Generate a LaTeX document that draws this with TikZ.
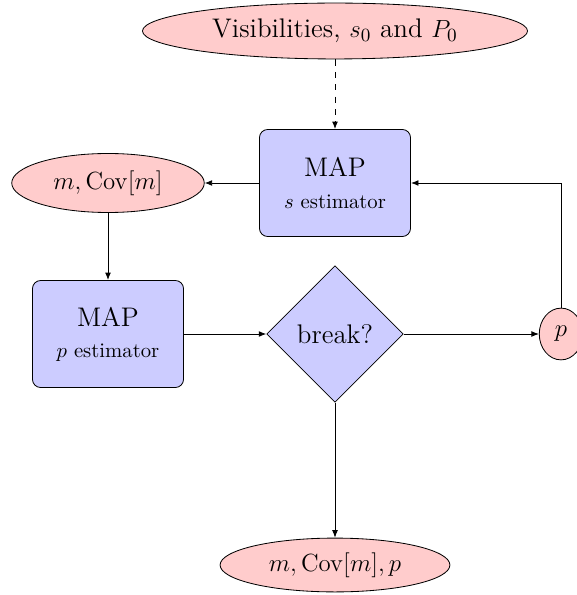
\documentclass[tikz,border=0pt]{standalone}
\usetikzlibrary{shapes.geometric,arrows.meta}
\newcommand{\mainsize}{\fontsize{13}{15.6}\selectfont}
\begin{document}
\begin{tikzpicture}[x=0.483pt,y=-0.483pt,
  iobox/.style={ellipse,draw=black,fill=red!20,inner sep=0pt,font=\mainsize},
  procbox/.style={rectangle,rounded corners=4pt,draw=black,fill=blue!20,inner sep=0pt,
    minimum width=73pt,minimum height=51.7pt,align=center},
  decbox/.style={diamond,draw=black,fill=blue!20,inner sep=0pt,minimum width=66pt,minimum height=66pt,font=\mainsize},
  conn/.style={-{Latex[length=3.6pt,width=2.8pt]}}]
\useasboundingbox (0,0) rectangle (576,595);
\node[iobox,minimum width=186pt,minimum height=27pt] (vis) at (335,31) {Visibilities, $s_0$ and $P_0$};
\node[procbox] (smap) at (335,183) {{\mainsize MAP}\\[3pt]$s$ estimator};
\node[iobox,minimum width=93pt,minimum height=28.5pt] (mcov) at (108,183) {$m,\mathrm{Cov}[m]$};
\node[procbox] (pmap) at (108,334) {{\mainsize MAP}\\[3pt]$p$ estimator};
\node[decbox] (brk) at (335,334) {break?};
\node[iobox,minimum width=21pt,minimum height=25pt] (pp) at (561,334) {$p$};
\node[iobox,minimum width=111pt,minimum height=26pt] (out) at (335,565) {$m,\mathrm{Cov}[m],p$};
\draw[conn,dashed] (vis) -- (smap);
\draw[conn] (smap) -- (mcov);
\draw[conn] (mcov) -- (pmap);
\draw[conn] (pmap) -- (brk);
\draw[conn] (brk) -- (pp);
\draw[conn] (brk) -- (out);
\draw[conn] (pp) |- (smap);
\end{tikzpicture}
\end{document}
